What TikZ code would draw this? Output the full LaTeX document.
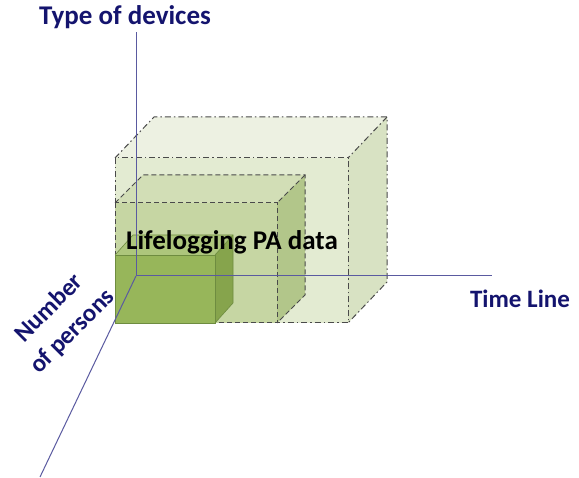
\documentclass[tikz,border=0pt]{standalone}
\usepackage{fontspec}
\setmainfont{Carlito}
\definecolor{navy}{HTML}{14146E}
\definecolor{axiscol}{HTML}{5A5AA0}
\definecolor{oFront}{HTML}{E3EBD2}
\definecolor{oTop}{HTML}{EDF1E2}
\definecolor{oRight}{HTML}{D8E2C3}
\definecolor{mFront}{HTML}{C6D6A3}
\definecolor{mTop}{HTML}{D2DEB6}
\definecolor{mRight}{HTML}{B2C68A}
\definecolor{sFront}{HTML}{97B65A}
\definecolor{sTop}{HTML}{ADC67C}
\definecolor{sRight}{HTML}{86A44C}
\definecolor{edge}{HTML}{4A4A4A}
\definecolor{sEdge}{HTML}{6E8C40}
\tikzset{
  axisline/.style={draw=axiscol, line width=1pt},
  axislabel/.style={text=navy, font=\bfseries\fontsize{25}{33}\selectfont, inner sep=0pt},
  outeredge/.style={draw=edge, line width=1pt, dash pattern=on 6pt off 3pt on 1.5pt off 3pt},
  middleedge/.style={draw=edge, line width=1pt, dash pattern=on 5pt off 3pt},
  smalledge/.style={draw=sEdge, line width=0.6pt},
}
\begin{document}
\begin{tikzpicture}[x=1pt,y=-1pt]
\useasboundingbox[fill=white] (0,0) rectangle (579,478);
% outer box
\fill[oFront] (115,158) rectangle (348,323);
\fill[oTop] (115,158) -- (154,117) -- (387,117) -- (348,158) -- cycle;
\fill[oRight] (348,158) -- (387,117) -- (387,282) -- (348,323) -- cycle;
\draw[outeredge] (115,158) rectangle (348,323);
\draw[outeredge] (115,158) -- (154,117) -- (387,117) -- (387,282) -- (348,323);
\draw[outeredge] (387,117) -- (348,158);
% middle box
\fill[mFront] (115,203) rectangle (277,323);
\fill[mTop] (115,203) -- (143,175) -- (305,175) -- (277,203) -- cycle;
\fill[mRight] (277,203) -- (305,175) -- (305,295) -- (277,323) -- cycle;
\draw[middleedge] (115,203) rectangle (277,323);
\draw[middleedge] (115,203) -- (143,175) -- (305,175) -- (305,295) -- (277,323);
\draw[middleedge] (305,175) -- (277,203);
% small box
\fill[sFront] (115,255) rectangle (215,323);
\fill[sTop] (115,255) -- (133,235) -- (233,235) -- (215,255) -- cycle;
\fill[sRight] (215,255) -- (233,235) -- (233,303) -- (215,323) -- cycle;
\draw[smalledge] (115,255) rectangle (215,323);
\draw[smalledge] (115,255) -- (133,235) -- (233,235) -- (233,303) -- (215,323);
\draw[smalledge] (233,235) -- (215,255);
% axes
\coordinate (O) at (136,276);
\coordinate (ytop) at (136,32);
\coordinate (xend) at (492,276);
\coordinate (zend) at (40,477);
\draw[axisline] (O) -- (ytop);
\draw[axisline] (O) -- (xend);
\draw[axisline] (O) -- (zend);
% labels
\node[axislabel, font=\bfseries\fontsize{27}{30}\selectfont] (tdev) at (125,17) {Type of devices};
\node[axislabel] (tline) at (520,299) {Time Line};
\node[axislabel, align=center, rotate=45] (npers) at (61,320) {Number\\of persons};
\node[inner sep=0pt, font=\bfseries\fontsize{27}{30}\selectfont] (lpa) at (232,242) {Lifelogging PA data};
\end{tikzpicture}
\end{document}
